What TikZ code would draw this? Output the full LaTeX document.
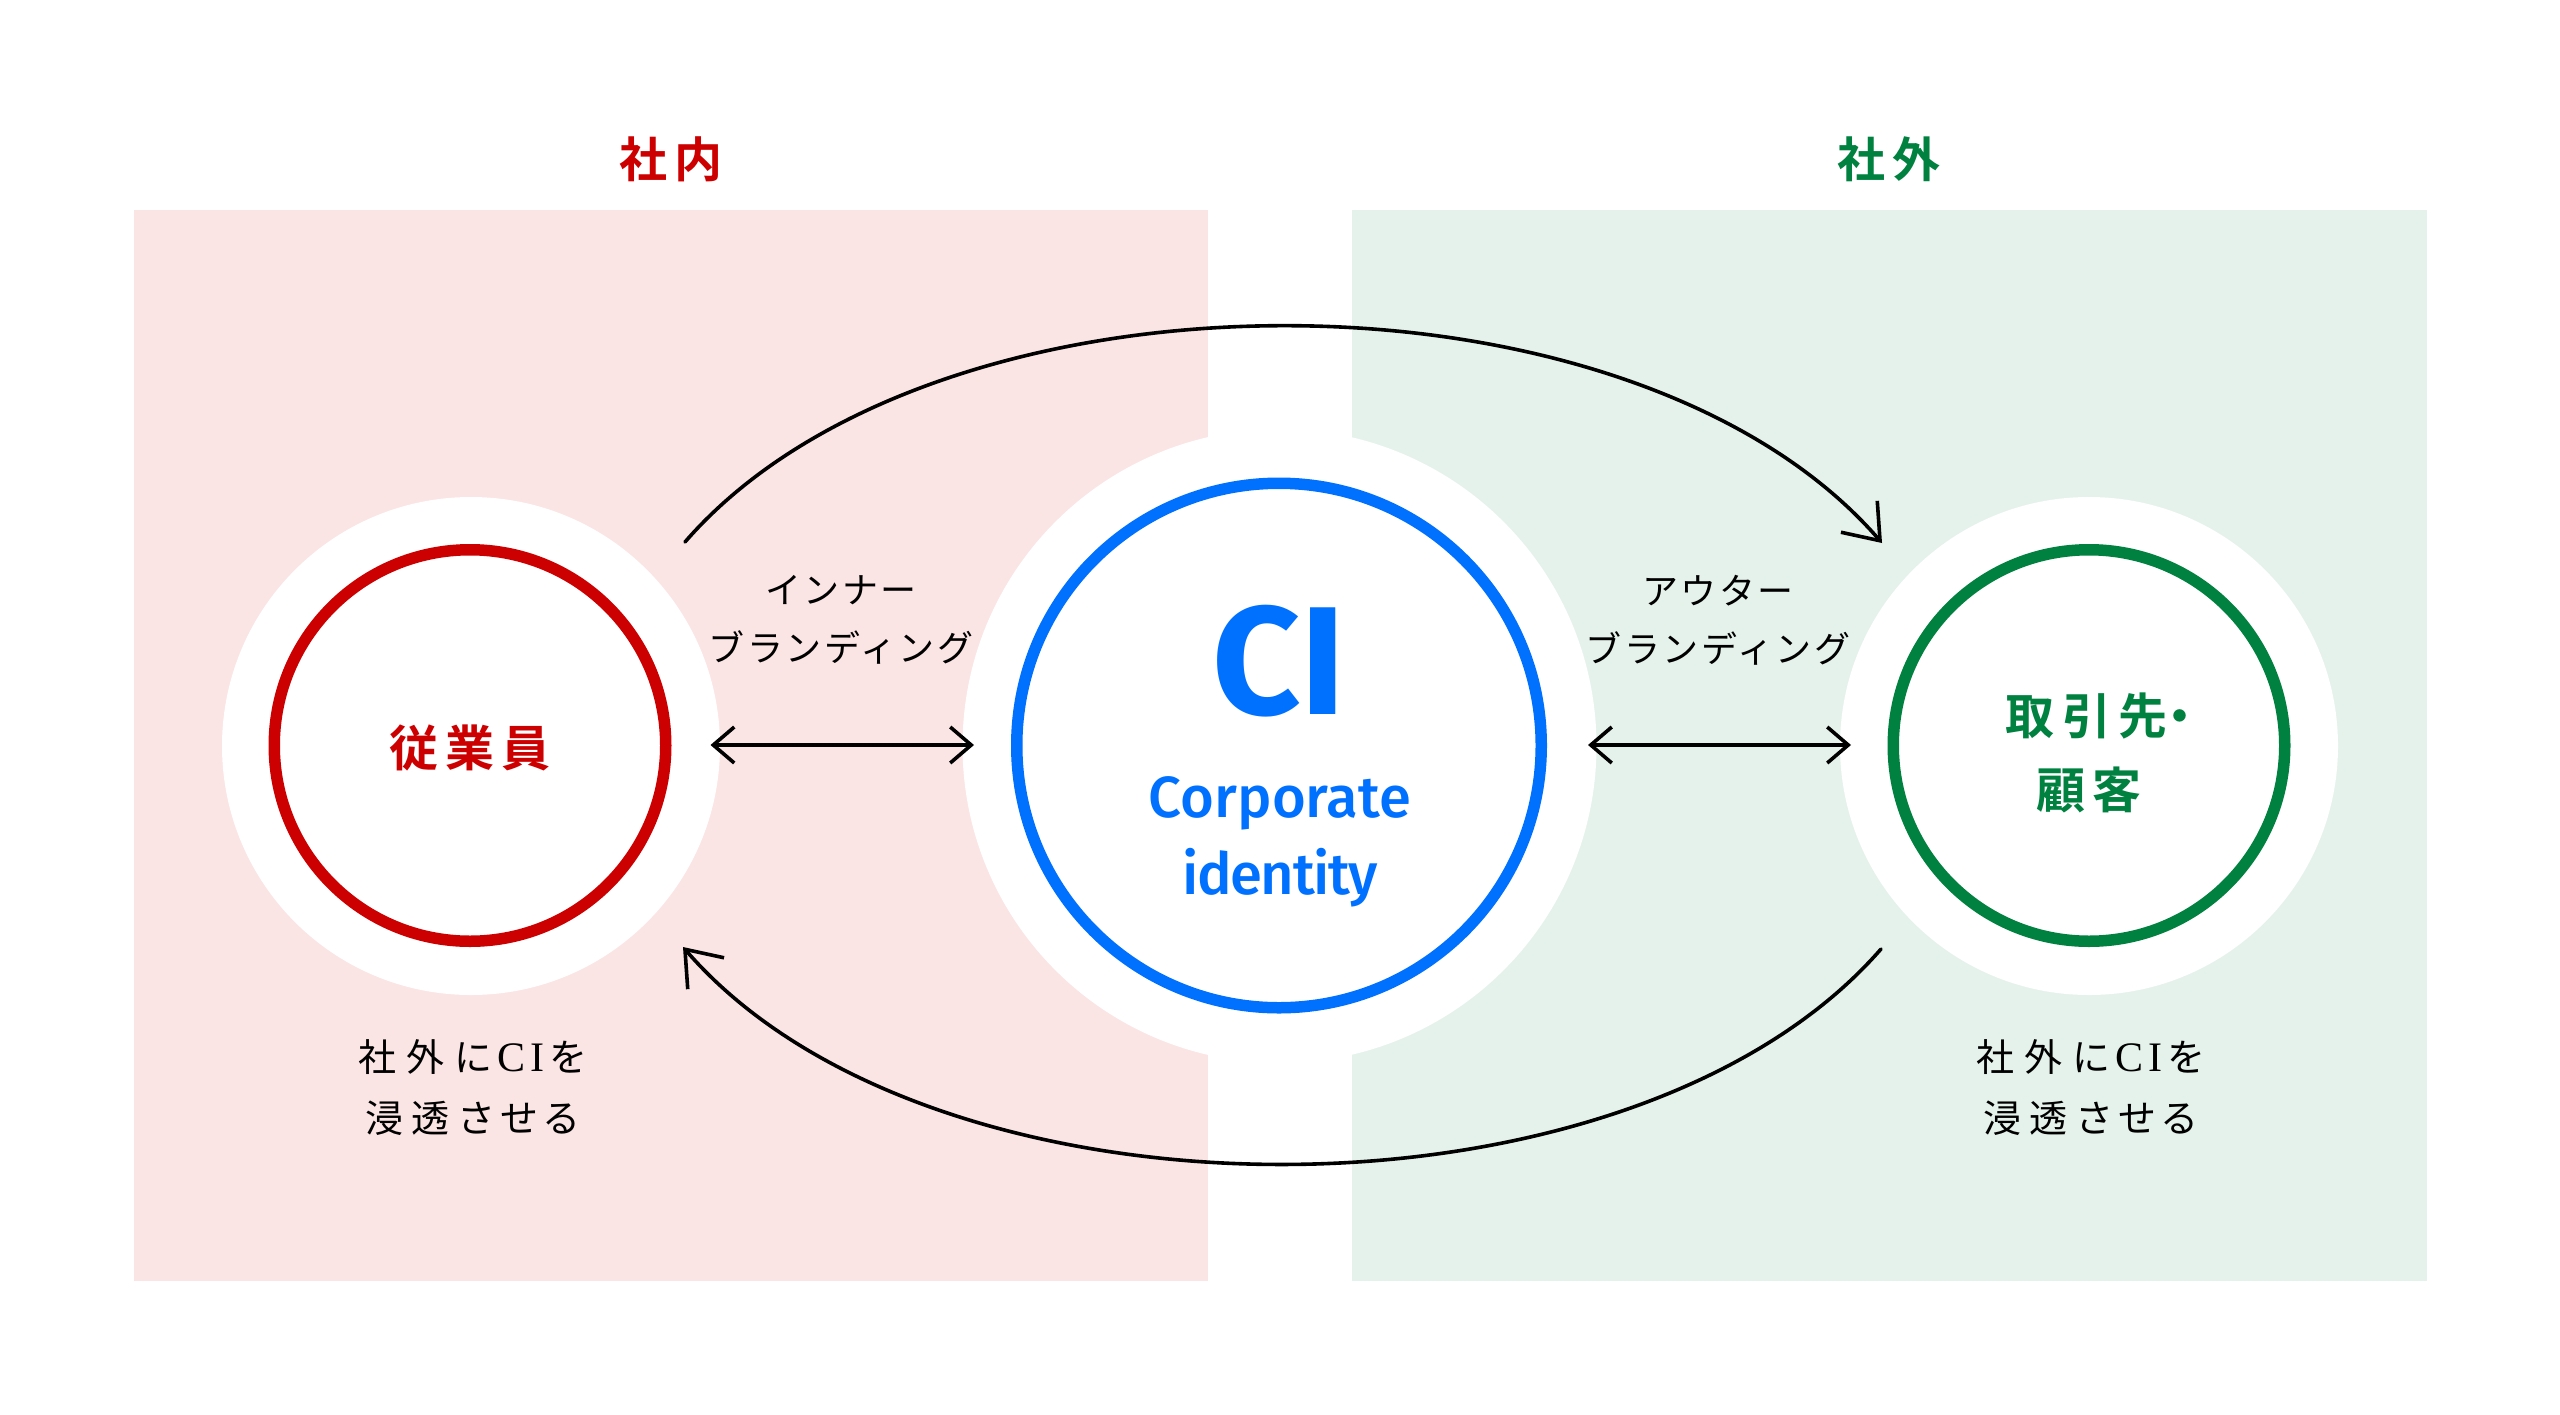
\documentclass[tikz,border=0pt]{standalone}
\usepackage{fontspec}
\usetikzlibrary{arrows.meta}
\setmainfont{Fira Sans}
\newfontfamily\jpserif[LetterSpace=11]{Noto Sans CJK JP}
\newfontfamily\jpcap[LetterSpace=7]{Noto Sans CJK JP}
\newfontfamily\jphead[LetterSpace=15,BoldFont={Noto Sans CJK JP Bold}]{Noto Sans CJK JP}
\newfontfamily\latinserif[LetterSpace=14]{Liberation Serif}
\newfontfamily\latinbody{Fira Sans Medium}
\newfontfamily\latintight[LetterSpace=-2.5]{Fira Sans Medium}
\newfontfamily\latinbold{Fira Sans Bold}
\definecolor{cired}{HTML}{CC0000}
\definecolor{cigreen}{HTML}{00813F}
\definecolor{ciblue}{HTML}{0070FF}
\definecolor{pinkbg}{HTML}{FBE4E4}
\definecolor{greenbg}{HTML}{E5F2EB}
\newcommand{\cinote}{社\kern5pt 外\kern5pt に\kern2.5pt{\fontsize{21}{30.5}\selectfont\latinserif CI}\kern2.5pt を\\浸\kern4pt 透\kern4pt させる}
\tikzset{
  halo/.style={circle,fill=white,inner sep=0pt,draw=none},
  ring/.style={circle,fill=white,inner sep=0pt,line width=5.75pt,minimum size=195.75pt},
  headlabel/.style={font=\fontsize{24}{24}\selectfont\jphead\bfseries,inner sep=0pt},
  namelabel/.style={font=\fontsize{24.5}{37}\selectfont\jphead\bfseries,inner sep=0pt,align=center},
  notelabel/.style={font=\fontsize{19}{30.5}\selectfont\jpserif,inner sep=0pt,align=center},
  caplabel/.style={font=\fontsize{18}{29}\selectfont\jpcap,inner sep=0pt,align=center},
  conn/.style={line width=1.8pt,line cap=round,-{Straight Barb[length=16pt,width=24pt,line width=1.8pt]}},
  twoway/.style={line width=1.8pt,line cap=round,{Straight Barb[length=10.5pt,width=18pt,line width=1.8pt]}-{Straight Barb[length=10.5pt,width=18pt,line width=1.8pt]}}
}
\begin{document}
\begin{tikzpicture}[x=0.5pt,y=-0.5pt]
\useasboundingbox (0,0) rectangle (2560,1414);
\fill[pinkbg] (134,210) rectangle (1208,1281);
\fill[greenbg] (1352,210) rectangle (2427,1281);
\node[halo,minimum size=249pt] (leftHalo) at (471,746) {};
\node[halo,minimum size=249pt] (rightHalo) at (2089,746) {};
\node[halo,minimum size=317pt] (centerHalo) at (1279.5,746) {};
\node[ring,draw=cired] (emp) at (470,745.5) {};
\node[ring,draw=cigreen] (cust) at (2089,745.5) {};
\node[ring,draw=ciblue,minimum size=262.25pt] (ci) at (1279,745.5) {};
\node[headlabel,text=cired] (inside) at (671,159) {社内};
\node[headlabel,text=cigreen] (outside) at (1889,159) {社外};
\node[namelabel,text=cired] (empText) at (470,748) {従業員};
\node[namelabel,text=cigreen] (custText) at (2089,753) {\hspace*{16pt}取引先\kern-6pt ・\\顧客};
\node[inner sep=0pt,text=ciblue,font=\fontsize{77}{77}\selectfont\latinbold] (ciText) at (1279,661) {CI};
\node[inner sep=0pt,text=ciblue,font=\fontsize{29}{38.5}\selectfont\latinbody,align=center] (ciName) at (1280,841.5) {Corporate\\{\latintight identity}};
\node[caplabel] (inner) at (841,620) {インナー\\ブランディング};
\node[caplabel] (outer) at (1718,620) {アウター\\ブランディング};
\node[notelabel] (noteL) at (473,1088) {\cinote};
\node[notelabel] (noteR) at (2091,1088) {\cinote};
\coordinate (topA) at (685,542);
\coordinate (topB) at (1882,543);
\coordinate (botA) at (1881,949);
\coordinate (botB) at (683,947);
\coordinate (innerA) at (710.5,745);
\coordinate (innerB) at (974,745);
\coordinate (outerA) at (1588,745);
\coordinate (outerB) at (1851,745);
\draw[conn] (topA) .. controls (935,254) and (1632,254) .. (topB);
\draw[conn] (botA) .. controls (1631,1236) and (933,1236) .. (botB);
\draw[twoway] (innerA) -- (innerB);
\draw[twoway] (outerA) -- (outerB);
\end{tikzpicture}
\end{document}
